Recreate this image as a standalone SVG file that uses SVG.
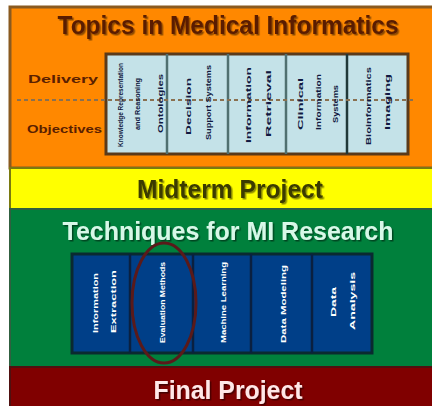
<svg xmlns="http://www.w3.org/2000/svg" width="432" height="406" viewBox="0 0 432 406">
<defs>
<filter id="sh" x="-20%" y="-60%" width="140%" height="220%"><feDropShadow dx="1.5" dy="1.5" stdDeviation="0.6" flood-color="#000" flood-opacity="0.45"/></filter>
</defs>
<style>
.ttl{font-family:"Liberation Sans",Arial,sans-serif;font-size:26px;font-weight:bold;text-anchor:middle}
.lbl{font-family:"Liberation Sans",Arial,sans-serif;font-size:10px;font-weight:bold;fill:#5a2000}
.sm{font-family:"Liberation Sans",Arial,sans-serif;font-size:8px;font-weight:bold;text-anchor:middle}
.dk{fill:#101840}
.wt{fill:#ffffff}
</style>
<rect width="432" height="406" fill="#ffffff"/>
<g id="topics">
<rect x="10" y="7" width="424" height="161" fill="#ff8800" stroke="#8a5a20" stroke-width="3"/>
<text class="ttl" x="228" y="34" fill="#5a1e00" filter="url(#sh)" textLength="341" lengthAdjust="spacingAndGlyphs">Topics in Medical Informatics</text>
<text class="lbl" x="28" y="83" textLength="70" lengthAdjust="spacingAndGlyphs">Delivery</text>
<text class="lbl" x="27" y="133" textLength="75" lengthAdjust="spacingAndGlyphs">Objectives</text>
<rect x="106" y="54" width="302" height="100" fill="#c4e2e8" stroke="#5a3a1a" stroke-width="3"/>
<g stroke="#507070" stroke-width="2.5">
<line x1="167" y1="54" x2="167" y2="154"/><line x1="228" y1="54" x2="228" y2="154"/><line x1="286" y1="54" x2="286" y2="154"/><line x1="347" y1="54" x2="347" y2="154" stroke="#203838"/>
</g>
<line x1="17" y1="100" x2="415" y2="100" stroke="#8a7050" stroke-width="2" stroke-dasharray="4,3"/>
<g class="sm dk">
<text transform="translate(123,105) rotate(-90)" textLength="84" lengthAdjust="spacingAndGlyphs">Knowledge Representation</text>
<text transform="translate(140,104) rotate(-90)" textLength="52" lengthAdjust="spacingAndGlyphs">and Reasoning</text>
<text transform="translate(163,103.5) rotate(-90)" textLength="59" lengthAdjust="spacingAndGlyphs">Ontologies</text>
<text transform="translate(191,106.5) rotate(-90)" textLength="57" lengthAdjust="spacingAndGlyphs">Decision</text>
<text transform="translate(211,102.5) rotate(-90)" textLength="75" lengthAdjust="spacingAndGlyphs">Support Systems</text>
<text transform="translate(251,105) rotate(-90)" textLength="76" lengthAdjust="spacingAndGlyphs">Information</text>
<text transform="translate(271,103.5) rotate(-90)" textLength="67" lengthAdjust="spacingAndGlyphs">Retrieval</text>
<text transform="translate(303,104) rotate(-90)" textLength="52" lengthAdjust="spacingAndGlyphs">Clinical</text>
<text transform="translate(321,102) rotate(-90)" textLength="56" lengthAdjust="spacingAndGlyphs">Information</text>
<text transform="translate(338,104) rotate(-90)" textLength="38" lengthAdjust="spacingAndGlyphs">Systems</text>
<text transform="translate(371,106) rotate(-90)" textLength="78" lengthAdjust="spacingAndGlyphs">Bioinformatics</text>
<text transform="translate(390,102) rotate(-90)" textLength="56" lengthAdjust="spacingAndGlyphs">Imaging</text>
</g>
</g>
<g id="midterm">
<rect x="10" y="168" width="424" height="41" fill="#ffff00" stroke="#7a7a10" stroke-width="2"/>
<text class="ttl" x="230" y="198" fill="#3a3a00" filter="url(#sh)" textLength="186" lengthAdjust="spacingAndGlyphs">Midterm Project</text>
</g>
<g id="techniques">
<rect x="10" y="209" width="424" height="158" fill="#00803c" stroke="#306040" stroke-width="2"/>
<text class="ttl" x="228" y="240" fill="#d8f8e8" filter="url(#sh)" textLength="331" lengthAdjust="spacingAndGlyphs">Techniques for MI Research</text>
<rect x="72" y="254" width="300" height="99" fill="#003f88" stroke="#0a2a30" stroke-width="3"/>
<g stroke="#0a2040" stroke-width="2.5">
<line x1="130" y1="254" x2="130" y2="353"/><line x1="193" y1="254" x2="193" y2="353"/><line x1="251" y1="254" x2="251" y2="353"/><line x1="312" y1="254" x2="312" y2="353"/>
</g>
<g class="sm wt">
<text transform="translate(98,303) rotate(-90)" textLength="60" lengthAdjust="spacingAndGlyphs">Information</text>
<text transform="translate(116,301.5) rotate(-90)" textLength="63" lengthAdjust="spacingAndGlyphs">Extraction</text>
<text transform="translate(165,302.5) rotate(-90)" textLength="81" lengthAdjust="spacingAndGlyphs">Evaluation Methods</text>
<text transform="translate(226,302.5) rotate(-90)" textLength="81" lengthAdjust="spacingAndGlyphs">Machine Learning</text>
<text transform="translate(286,304) rotate(-90)" textLength="78" lengthAdjust="spacingAndGlyphs">Data Modeling</text>
<text transform="translate(336,302) rotate(-90)" textLength="30" lengthAdjust="spacingAndGlyphs">Data</text>
<text transform="translate(355,301) rotate(-90)" textLength="58" lengthAdjust="spacingAndGlyphs">Analysis</text>
</g>
<ellipse cx="164" cy="303" rx="32" ry="60" fill="none" stroke="#5a1a1a" stroke-width="3"/>
</g>
<g id="final">
<rect x="10" y="367" width="424" height="42" fill="#800000" stroke="#501010" stroke-width="2"/>
<text class="ttl" x="228" y="399" fill="#ffe8e8" filter="url(#sh)" textLength="149" lengthAdjust="spacingAndGlyphs">Final Project</text>
</g>
<g id="connectors"></g>
</svg>
